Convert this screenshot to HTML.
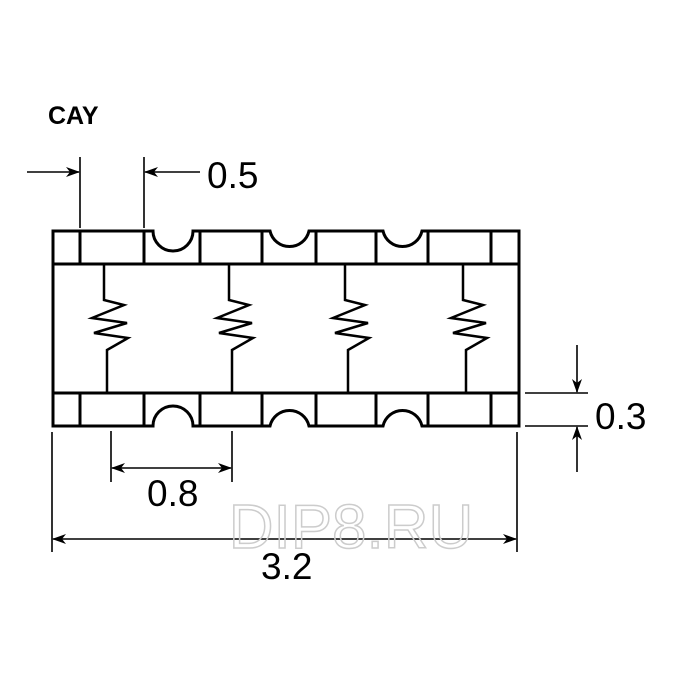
<!DOCTYPE html>
<html><head><style>html,body{margin:0;padding:0;background:#fff}svg{display:block}</style></head>
<body>
<svg width="700" height="700" viewBox="0 0 700 700" xmlns="http://www.w3.org/2000/svg">
<defs>
<marker id="a" markerWidth="14" markerHeight="10" refX="13" refY="5" orient="auto" markerUnits="userSpaceOnUse">
<path d="M0,0 L14,5 L0,10 L4,5 Z" fill="#000"/></marker>
</defs>
<rect width="700" height="700" fill="#fff"/>
<text x="48" y="124" font-family="Liberation Sans, sans-serif" font-weight="bold" font-size="25">CAY</text>
<g stroke="#000" stroke-width="3" fill="none" stroke-linejoin="miter">
<path d="M53,231 H153 A20,20 0 0 0 193,231 H270 A20,20 0 0 0 309,231 H383 A20,20 0 0 0 422,231 H519 V426 H422 A20,20 0 0 0 383,426 H309 A20,20 0 0 0 270,426 H193 A20,20 0 0 0 153,426 H53 Z"/>
<path d="M53,264 H519 M53,393 H519"/>
<path d="M80,231 V264 M144,231 V264 M200,231 V264 M262,231 V264 M316,231 V264 M376,231 V264 M428,231 V264 M491,231 V264"/>
<path d="M80,393 V426 M144,393 V426 M200,393 V426 M262,393 V426 M316,393 V426 M376,393 V426 M428,393 V426 M491,393 V426"/>
<g stroke-width="2.5">
<path d="M104,264 V300 L124,305 L92,318 L127,323 L94,333 L128,338 L107,350 V393"/>
<path d="M229,264 V300 L249,305 L217,318 L252,323 L219,333 L253,338 L232,350 V393"/>
<path d="M345,264 V300 L365,305 L333,318 L368,323 L335,333 L369,338 L348,350 V393"/>
<path d="M463,264 V300 L483,305 L451,318 L486,323 L453,333 L487,338 L466,350 V393"/>
</g>
</g>
<g stroke="#000" stroke-width="1.6" fill="none">
<path d="M80,157 V228 M144,157 V228"/>
<path d="M27,172 H79" marker-end="url(#a)"/>
<path d="M200,172 H145" marker-end="url(#a)"/>
<path d="M525,393 H588 M525,426 H588"/>
<path d="M577,345 V392" marker-end="url(#a)"/>
<path d="M577,472 V427" marker-end="url(#a)"/>
<path d="M111,431 V482 M232,431 V482"/>
<path d="M171,468 H112" marker-end="url(#a)"/>
<path d="M171,468 H231" marker-end="url(#a)"/>
<path d="M52,432 V552 M517,432 V552"/>
<path d="M285,539 H53" marker-end="url(#a)"/>
<path d="M285,539 H516" marker-end="url(#a)"/>
</g>
<text x="351" y="548" text-anchor="middle" font-family="Liberation Sans, sans-serif" font-size="62" fill="none" stroke="#ccc" stroke-width="1.5">DIP8.RU</text>
<g font-family="Liberation Sans, sans-serif" font-size="37" fill="#000">
<text x="207" y="188">0.5</text>
<text x="595" y="429">0.3</text>
<text x="147" y="506">0.8</text>
<text x="261" y="579">3.2</text>
</g>
</svg>
</body></html>
